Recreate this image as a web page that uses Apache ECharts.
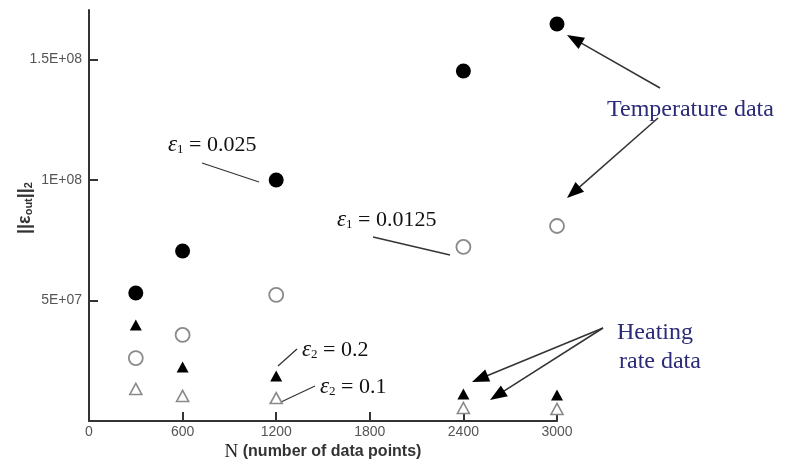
<!DOCTYPE html>
<html>
<head>
<meta charset="utf-8">
<script src="https://cdn.jsdelivr.net/npm/echarts@6/dist/echarts.min.js"></script>
<style>html,body{margin:0;padding:0;background:#fff}#c{width:788px;height:460px}</style>
</head>
<body>
<div id="c"></div>
<script>
// ---- data ----
var N = [300, 600, 1200, 2400, 3000];
var tempEps0025 = [53.1e6, 70.5e6, 100.0e6, 145.2e6, 164.7e6];   // filled circles
var tempEps00125 = [26.1e6, 35.7e6, 52.3e6, 72.2e6, 80.9e6];     // open circles
var heatEps02 = [39.8e6, 22.4e6, 18.7e6, 11.2e6, 10.8e6];        // filled triangles
var heatEps01 = [13.3e6, 10.4e6, 9.5e6, 5.4e6, 5.0e6];           // open triangles
var xTickValues = [600, 1200, 1800, 2400, 3000];
var xLabelValues = [0, 600, 1200, 1800, 2400, 3000];
var yTickValues = [5e7, 1e8, 1.5e8];

function pairs(xs, ys) { return xs.map(function (x, i) { return [x, ys[i]]; }); }
function sci(v) {
  var s = v.toExponential().split('e');
  var exp = parseInt(s[1], 10);
  var e = (exp < 0 ? '-' : '+') + (Math.abs(exp) < 10 ? '0' : '') + Math.abs(exp);
  return s[0] + 'E' + e;
}

var serif = 'Liberation Serif';
var sans = 'Liberation Sans';
var ink = '#333';
var navy = '#2b2b78';

function arrow(x1, y1, x2, y2) {
  var dx = x2 - x1, dy = y2 - y1, len = Math.sqrt(dx * dx + dy * dy);
  var ux = dx / len, uy = dy / len, L = 17, W = 6.5;
  var bx = x2 - ux * L, by = y2 - uy * L;
  return [
    { type: 'line', shape: { x1: x1, y1: y1, x2: bx + ux * 2, y2: by + uy * 2 }, style: { stroke: ink, lineWidth: 1.5 } },
    { type: 'polygon', shape: { points: [[x2, y2], [bx - uy * W, by + ux * W], [bx + uy * W, by - ux * W]] }, style: { fill: '#000' } }
  ];
}
function leader(x1, y1, x2, y2) {
  return { type: 'line', shape: { x1: x1, y1: y1, x2: x2, y2: y2 }, style: { stroke: ink, lineWidth: 1.3 } };
}
function epsText(x, y, sub, val) {
  return {
    type: 'text', x: x, y: y,
    style: {
      text: '{e|ε}{s|' + sub + '}{t| = ' + val + '}',
      verticalAlign: 'middle',
      rich: {
        e: { fontFamily: serif, fontStyle: 'italic', fontSize: 23, lineHeight: 26, verticalAlign: 'bottom', fill: '#111' },
        s: { fontFamily: serif, fontSize: 13, lineHeight: 13, verticalAlign: 'bottom', fill: '#111' },
        t: { fontFamily: serif, fontSize: 22, lineHeight: 26, verticalAlign: 'bottom', fill: '#111' }
      }
    }
  };
}

var graphics = [
  epsText(168, 143, '1', '0.025'),
  leader(202, 163, 259, 182),
  epsText(337, 218, '1', '0.0125'),
  leader(373, 237, 450, 255),
  epsText(302, 348, '2', '0.2'),
  leader(297, 349, 278, 366),
  epsText(320, 385, '2', '0.1'),
  leader(315, 386, 281, 402),
  { type: 'text', x: 607, y: 110, style: { text: 'Temperature data', fontFamily: serif, fontSize: 24, fill: navy, verticalAlign: 'middle' } },
  { type: 'text', x: 617, y: 333, style: { text: 'Heating', fontFamily: serif, fontSize: 24, fill: navy, verticalAlign: 'middle' } },
  { type: 'text', x: 619, y: 362, style: { text: 'rate data', fontFamily: serif, fontSize: 24, fill: navy, verticalAlign: 'middle' } },
  {
    type: 'text', x: 323, y: 452,
    style: {
      text: '{n|N}{t| (number of data points)}', align: 'center', verticalAlign: 'middle',
      rich: {
        n: { fontFamily: serif, fontSize: 19, fill: '#222' },
        t: { fontFamily: sans, fontSize: 16, fontWeight: 'bold', fill: '#333' }
      }
    }
  },
  {
    type: 'text', x: 24, y: 208, rotation: Math.PI / 2,
    style: {
      text: '{a|||ε}{b|out}{a|||}{b|2}', align: 'center', verticalAlign: 'middle',
      rich: {
        a: { fontFamily: sans, fontSize: 18, fontWeight: 'bold', lineHeight: 20, verticalAlign: 'bottom', fill: '#333' },
        b: { fontFamily: sans, fontSize: 11, fontWeight: 'bold', lineHeight: 11, verticalAlign: 'bottom', fill: '#333' }
      }
    }
  }
];
graphics = graphics.concat(arrow(660, 88, 567, 35), arrow(658, 118, 567, 198),
  arrow(603, 328, 472, 382), arrow(603, 328, 490, 400));

var chart = echarts.init(document.getElementById('c'), null, { renderer: 'canvas' });
chart.setOption({
  animation: false,
  backgroundColor: '#fff',
  grid: { left: 89, right: 231, top: 10, bottom: 39, outerBoundsMode: 'none', containLabel: false },
  xAxis: {
    type: 'value', min: 0, max: 3000,
    axisLine: { show: true, onZero: false, lineStyle: { color: ink, width: 2 } },
    axisTick: { show: true, inside: true, length: 9, customValues: xTickValues, lineStyle: { color: ink, width: 2 } },
    axisLabel: { customValues: xLabelValues, color: '#555', fontSize: 14, fontFamily: sans, margin: 4, formatter: function (v) { return String(v); } },
    splitLine: { show: false }
  },
  yAxis: {
    type: 'value', min: 0, max: 1.705e8,
    axisLine: { show: true, onZero: false, lineStyle: { color: ink, width: 2 } },
    axisTick: { show: true, inside: true, length: 9, customValues: yTickValues, lineStyle: { color: ink, width: 2 } },
    axisLabel: { customValues: yTickValues, color: '#555', fontSize: 14, fontFamily: sans, margin: 7, formatter: sci },
    splitLine: { show: false }
  },
  series: [
    { name: 'eps1=0.025', type: 'scatter', clip: false, symbol: 'circle', symbolSize: 15, data: pairs(N, tempEps0025), itemStyle: { color: '#000', opacity: 1 } },
    { name: 'eps1=0.0125', type: 'scatter', clip: false, symbol: 'circle', symbolSize: 14, data: pairs(N, tempEps00125), itemStyle: { color: '#fff', borderColor: '#8a8a8a', borderWidth: 1.8, opacity: 1 } },
    { name: 'eps2=0.2', type: 'scatter', clip: false, symbol: 'triangle', symbolSize: [12, 11], data: pairs(N, heatEps02), itemStyle: { color: '#000', opacity: 1 } },
    { name: 'eps2=0.1', type: 'scatter', clip: false, symbol: 'triangle', symbolSize: [12, 11], data: pairs(N, heatEps01), itemStyle: { color: '#fff', borderColor: '#8a8a8a', borderWidth: 1.6, opacity: 1 } }
  ],
  graphic: graphics
});
</script>
</body>
</html>
